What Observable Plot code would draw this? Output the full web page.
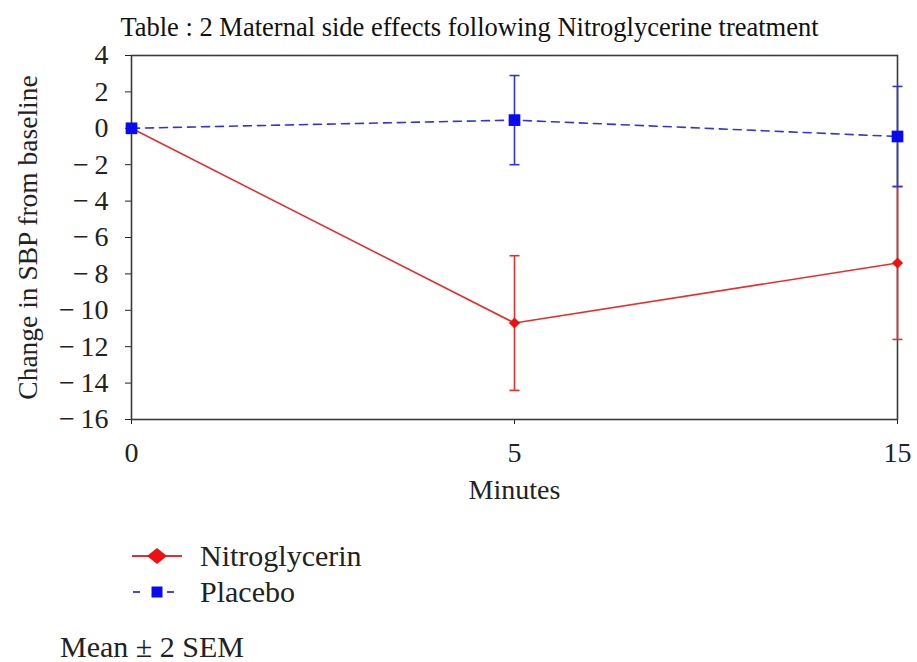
<!DOCTYPE html>
<html>
<head>
<meta charset="utf-8">
<script src="https://cdn.jsdelivr.net/npm/d3@7"></script>
<script src="https://cdn.jsdelivr.net/npm/@observablehq/plot@0.6"></script>
<style>
  html, body { margin: 0; padding: 0; background: #fff; }
  #wrap { position: relative; width: 917px; height: 662px; overflow: hidden; font-family: "Liberation Serif", "DejaVu Serif", serif; }
  #title { position: absolute; left: 11px; top: 14px; width: 917px; text-align: center; font-size: 26.5px; line-height: 1; color: #111; white-space: nowrap; }
  #chart { position: absolute; left: 0; top: 35px; }
  .leg { position: absolute; left: 130px; font-size: 30px; color: #222; display: flex; align-items: center; height: 30px; white-space: nowrap; }
  .leg svg { margin-right: 14px; }
  #caption { position: absolute; left: 60px; top: 632px; font-size: 30px; color: #222; line-height: 30px; white-space: nowrap; }
</style>
</head>
<body>
<div id="wrap">
  <div id="title">Table : 2 Maternal side effects following Nitroglycerine treatment</div>
  <div id="chart"></div>
  <div class="leg" id="leg1" style="top:541px"></div>
  <div class="leg" id="leg2" style="top:577px"></div>
  <div id="caption">Mean ± 2 SEM</div>
</div>
<script>
// Data
const minutes = [0, 5, 15];
const nitroMean = [0, -10.7, -7.4];
const nitroErr = [0, 3.7, 4.2];      // 2 SEM
const placeboMean = [0, 0.45, -0.45];
const placeboErr = [0, 2.45, 2.75];  // 2 SEM
const yTicks = [4, 2, 0, -2, -4, -6, -8, -10, -12, -14, -16];
const seriesNames = ["Nitroglycerin", "Placebo"];

const RED = "#e3302f";
const RED_MARK = "#ee1111";
const BLUE = "#3434d0";
const BLUE_MARK = "#0a0af0";

const nitro = minutes.map((m, i) => ({minute: m, mean: nitroMean[i], lo: nitroMean[i] - nitroErr[i], hi: nitroMean[i] + nitroErr[i]}));
const placebo = minutes.map((m, i) => ({minute: m, mean: placeboMean[i], lo: placeboMean[i] - placeboErr[i], hi: placeboMean[i] + placeboErr[i]}));
const nitroBars = nitro.filter((d, i) => nitroErr[i] > 0);
const placeboBars = placebo.filter((d, i) => placeboErr[i] > 0);
const capsOf = arr => arr.flatMap(d => [{minute: d.minute, v: d.lo}, {minute: d.minute, v: d.hi}]);

// horizontal cap symbol for error bars
const capSymbol = {
  draw(ctx, size) {
    const r = Math.sqrt(size / Math.PI);
    ctx.moveTo(-r, 0);
    ctx.lineTo(r, 0);
  }
};

const fmt = d => d < 0 ? "\u2212\u2009" + Math.abs(d) : String(d);

const chart = Plot.plot({
  width: 917,
  height: 480,
  marginLeft: 131,
  marginRight: 20,
  marginTop: 20,
  marginBottom: 96,
  style: {fontFamily: "Liberation Serif, serif", fontSize: "28px", color: "#222", background: "transparent"},
  x: {type: "point", domain: minutes, padding: 0},
  y: {domain: [-16, 4]},
  marks: [
    Plot.axisY({ticks: yTicks, tickFormat: fmt, tickSize: 6, tickPadding: 17, label: null, fontSize: 28}),
    Plot.axisX({ticks: minutes, tickSize: 5, tickPadding: 18, label: null, fontSize: 28}),
    Plot.frame({stroke: "#3a3a3a", strokeWidth: 1.6}),
    // Nitroglycerin
    Plot.line(nitro, {x: "minute", y: "mean", stroke: RED, strokeWidth: 1.6}),
    Plot.ruleX(nitroBars, {x: "minute", y1: "lo", y2: "hi", stroke: RED, strokeWidth: 1.6}),
    Plot.dot(capsOf(nitroBars), {x: "minute", y: "v", symbol: capSymbol, r: 5, stroke: RED, strokeWidth: 1.6, fill: "none"}),
    // Placebo
    Plot.line(placebo, {x: "minute", y: "mean", stroke: BLUE, strokeWidth: 1.6, strokeDasharray: "8,6"}),
    Plot.ruleX(placeboBars, {x: "minute", y1: "lo", y2: "hi", stroke: BLUE, strokeWidth: 1.6}),
    Plot.dot(capsOf(placeboBars), {x: "minute", y: "v", symbol: capSymbol, r: 5, stroke: BLUE, strokeWidth: 1.6, fill: "none"}),
    Plot.dot(nitro, {x: "minute", y: "mean", symbol: "diamond2", r: 5, fill: RED_MARK, stroke: "none"}),
    Plot.dot(placebo, {x: "minute", y: "mean", symbol: "square", r: 6.6, fill: BLUE_MARK, stroke: "none"}),
    // axis titles
    Plot.text(["Minutes"], {frameAnchor: "bottom", dy: 79, fontSize: 28, fill: "#222"}),
    Plot.text(["Change in SBP from baseline"], {frameAnchor: "left", dx: -103, rotate: -90, textAnchor: "middle", fontSize: 27.5, fill: "#222"})
  ]
});
document.getElementById("chart").appendChild(chart);

// legend
function legendSymbol(color, markColor, dashed, shape) {
  const ns = "http://www.w3.org/2000/svg";
  const s = document.createElementNS(ns, "svg");
  s.setAttribute("width", 56); s.setAttribute("height", 24);
  if (dashed) {
    for (const [a, b] of [[3, 17], [37, 52]]) {
      const l = document.createElementNS(ns, "line");
      l.setAttribute("x1", a); l.setAttribute("x2", b); l.setAttribute("y1", 12); l.setAttribute("y2", 12);
      l.setAttribute("stroke", color); l.setAttribute("stroke-width", 1.8);
      l.setAttribute("stroke-dasharray", "7,8");
      s.appendChild(l);
    }
  } else {
    const l = document.createElementNS(ns, "line");
    l.setAttribute("x1", 2); l.setAttribute("x2", 52); l.setAttribute("y1", 12); l.setAttribute("y2", 12);
    l.setAttribute("stroke", color); l.setAttribute("stroke-width", 1.8);
    s.appendChild(l);
  }
  const p = document.createElementNS(ns, "path");
  p.setAttribute("d", shape === "diamond" ? "M27,4L37,12L27,20L17,12Z" : "M21.5,6.5H32.5V17.5H21.5Z");
  p.setAttribute("fill", markColor);
  s.appendChild(p);
  return s;
}
const l1 = document.getElementById("leg1");
l1.appendChild(legendSymbol(RED, RED_MARK, false, "diamond"));
l1.appendChild(document.createTextNode(seriesNames[0]));
const l2 = document.getElementById("leg2");
l2.appendChild(legendSymbol(BLUE, BLUE_MARK, true, "square"));
l2.appendChild(document.createTextNode(seriesNames[1]));
</script>
</body>
</html>
